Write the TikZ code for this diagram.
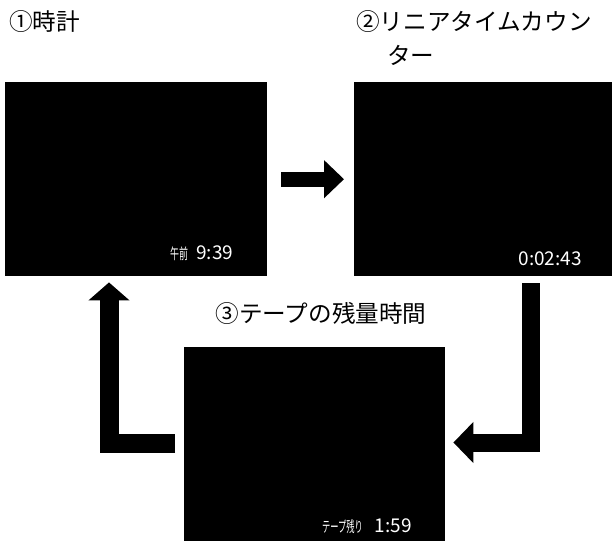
\documentclass[tikz,border=0pt]{standalone}
\usepackage{fontspec}
\setmainfont{Noto Sans CJK JP}
\usetikzlibrary{arrows.meta,positioning,calc}

\begin{document}
\begin{tikzpicture}[x=1pt,y=-1pt,
  screen/.style={fill=black, draw=none, inner sep=0pt, anchor=north west},
  osd/.style={white, inner sep=0pt, font=\fontsize{19}{19}\selectfont},
  caption/.style={inner sep=0pt, font=\fontsize{23.6}{34}\selectfont},
  bigarrow/.style={line join=miter, line cap=butt}]
  \useasboundingbox (0,0) rectangle (612,541);

  % Screen 1 (clock)
  \node[screen, minimum width=262pt, minimum height=194pt] (clock) at (5,82) {};
  \node[osd, anchor=west] (clocktime) at (170,253)
    {\scalebox{0.6}[1]{\fontsize{15}{15}\selectfont 午前}\hspace{8pt}9:39};
  \node[caption, anchor=west] (lab1) at (9,22) {①時計};

  % Screen 2 (linear time counter)
  \node[screen, minimum width=258pt, minimum height=194pt] (counter) at (354,82) {};
  \node[osd, anchor=east] (countertime) at (582,259) {0:02:43};
  \node[caption, anchor=north west, align=left] (lab2) at (356,10) {②リニアタイムカウン\\\hspace*{31pt}ター};

  % Screen 3 (remaining tape)
  \node[screen, minimum width=261pt, minimum height=194pt] (remain) at (184,347) {};
  \node[osd, anchor=west] (remaintime) at (322,526)
    {\scalebox{0.55}[1]{\fontsize{15}{15}\selectfont テープ残り}\hspace{12pt}1:59};
  \node[caption] (lab3) at (321,313) {③テープの残量時間};

  % Arrow 1 -> 2
  \draw[bigarrow, line width=15pt, -{Triangle[length=20pt,width=37pt]}]
    ([xshift=14pt]clock.east) -- ([xshift=-10pt]counter.west);

  % Arrow 2 -> 3
  \coordinate (bend2) at (530.5,442.5);
  \draw[bigarrow, line width=18pt, -{Triangle[length=20pt,width=40pt]}]
    ([yshift=-7pt]bend2 |- counter.south) -- (bend2) -- ([xshift=8pt]remain.east |- bend2);

  % Arrow 3 -> 1
  \coordinate (bend3) at (109,443);
  \draw[bigarrow, line width=19pt, -{Triangle[length=18pt,width=40pt]}]
    ([xshift=-9pt]remain.west |- bend3) -- (bend3) -- ([yshift=-6pt]bend3 |- clock.south);
\end{tikzpicture}
\end{document}
